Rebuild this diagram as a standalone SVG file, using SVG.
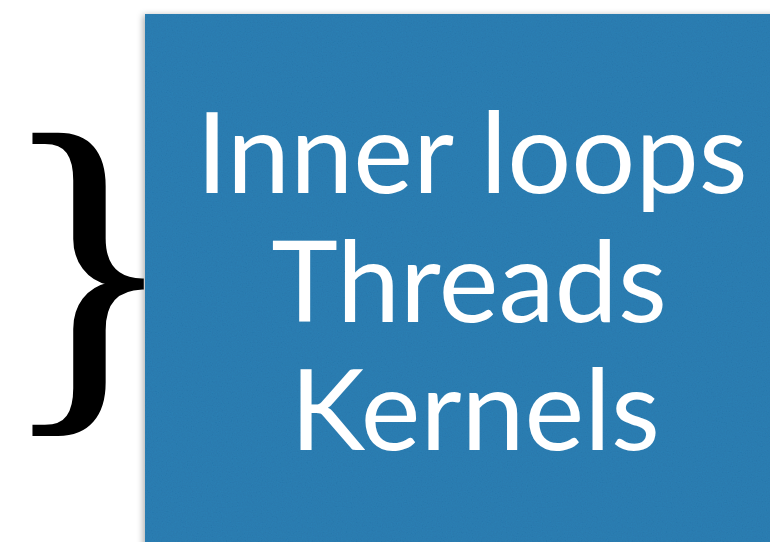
<svg xmlns="http://www.w3.org/2000/svg" width="770" height="542" viewBox="0 0 770 542">
  <defs>
    <style>
      .label { font-family: Lato, "Open Sans", sans-serif; font-size: 113px; fill: #ffffff; text-anchor: middle; }
      .brace { font-family: "Liberation Serif", serif; font-size: 363px; fill: #000000; stroke: #000000; stroke-width: 3; }
    </style>
    <filter id="paper" x="0" y="0" width="100%" height="100%" color-interpolation-filters="sRGB">
      <feTurbulence type="fractalNoise" baseFrequency="0.8" numOctaves="2" seed="3" result="noise"/>
      <feColorMatrix in="noise" type="matrix" values="0 0 0 0 0.13  0 0 0 0 0.42  0 0 0 0 0.62  0 0 0 0.5 -0.1" result="tint"/>
      <feComposite in="tint" in2="SourceGraphic" operator="in" result="grain"/>
      <feMerge><feMergeNode in="SourceGraphic"/><feMergeNode in="grain"/></feMerge>
    </filter>
    <filter id="shadow" x="-5%" y="-5%" width="110%" height="110%">
      <feGaussianBlur in="SourceAlpha" stdDeviation="3"/>
      <feOffset dx="-2" dy="1" result="blur"/>
      <feFlood flood-color="#000" flood-opacity="0.3"/>
      <feComposite in2="blur" operator="in"/>
      <feMerge><feMergeNode/><feMergeNode in="SourceGraphic"/></feMerge>
    </filter>
  </defs>

  <rect width="770" height="542" fill="#ffffff"/>

  <!-- closing brace grouping the labels -->
  <g id="brace">
    <text class="brace" x="1" y="386">}</text>
  </g>

  <!-- blue card holding the three labels -->
  <g id="card">
    <g filter="url(#shadow)">
      <rect x="145" y="14" width="640" height="540" fill="#2c7fb4" filter="url(#paper)"/>
    </g>
    <text class="label" x="472" y="193">Inner loops</text>
    <text class="label" x="469" y="322">Threads</text>
    <text class="label" x="475" y="450">Kernels</text>
  </g>
</svg>
